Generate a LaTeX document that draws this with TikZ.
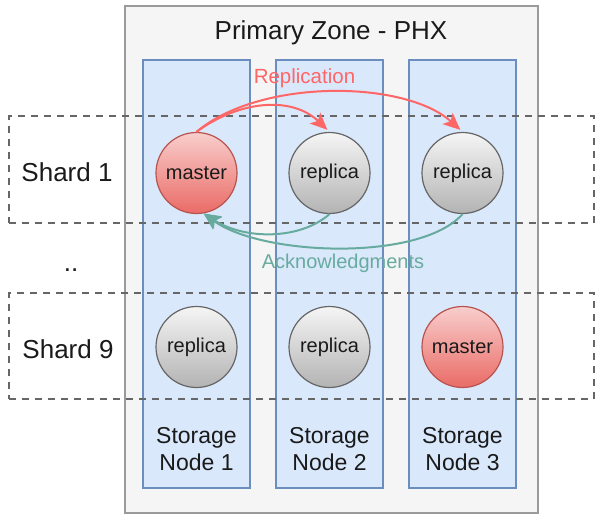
\documentclass[tikz,border=0pt]{standalone}
\usepackage{fontspec}
\setmainfont{Liberation Sans}
\usetikzlibrary{arrows.meta}
\definecolor{zonefill}{HTML}{F5F5F5}
\definecolor{zonedraw}{HTML}{9A9A9A}
\definecolor{colfill}{HTML}{DAE8FC}
\definecolor{coldraw}{HTML}{6C8EBF}
\definecolor{reptop}{HTML}{F5F5F5}
\definecolor{repbot}{HTML}{B3B3B3}
\definecolor{repdraw}{HTML}{666666}
\definecolor{mastop}{HTML}{F8CECC}
\definecolor{masbot}{HTML}{EA6B66}
\definecolor{masdraw}{HTML}{B85450}
\definecolor{replcol}{HTML}{FF6666}
\definecolor{ackcol}{HTML}{67AB9F}
\definecolor{dashcol}{HTML}{666666}
\definecolor{txt}{HTML}{1A1A1A}
\tikzset{
  zonebox/.style={draw=zonedraw, fill=zonefill, line width=1.4pt, minimum width=413pt, minimum height=507pt, inner sep=0pt},
  colbox/.style={draw=coldraw, fill=colfill, line width=1.4pt, minimum width=107pt, minimum height=428pt, inner sep=0pt},
  shardbox/.style={draw=dashcol, line width=1.4pt, dash pattern=on 7pt off 6pt, minimum width=585pt, inner sep=0pt},
  repnode/.style={circle, draw=repdraw, line width=1.2pt, top color=reptop, bottom color=repbot, minimum size=81pt, inner sep=0pt, font=\fontsize{20}{24}\selectfont, text=txt},
  masnode/.style={circle, draw=masdraw, line width=1.2pt, top color=mastop, bottom color=masbot, minimum size=81pt, inner sep=0pt, font=\fontsize{20}{24}\selectfont, text=txt},
  biglabel/.style={font=\fontsize{26}{30}\selectfont, text=txt, inner sep=0pt},
  storelabel/.style={font=\fontsize{23}{27}\selectfont, text=txt, align=center, inner sep=0pt},
  replarrow/.style={draw=replcol, line width=2pt, -{Stealth[length=17pt, width=15pt, inset=4pt]}},
  ackarrow/.style={draw=ackcol, line width=2pt, -{Stealth[length=17pt, width=15pt, inset=4pt]}},
}
\begin{document}
\begin{tikzpicture}[x=1pt, y=-1pt]
\useasboundingbox (0,0) rectangle (595,514);
% zone
\node[zonebox] (zone) at (331.5,259.5) {};
\node[biglabel] (zonelabel) at (331,33) {Primary Zone - PHX};
% columns
\node[colbox] (col1) at (196.5,274) {};
\node[colbox] (col2) at (329.5,274) {};
\node[colbox] (col3) at (462.5,274) {};
% storage labels
\node[storelabel] (sl1) at (196.5,449) {Storage\\Node 1};
\node[storelabel] (sl2) at (329.5,449) {Storage\\Node 2};
\node[storelabel] (sl3) at (462.5,449) {Storage\\Node 3};
% shard boxes
\node[shardbox, minimum height=107pt] (shard1) at (301.5,169.5) {};
\node[shardbox, minimum height=106pt] (shard9) at (301.5,346) {};
\node[biglabel] (s1label) at (67,172) {Shard 1};
\node[biglabel] (s9label) at (68,349) {Shard 9};
\node[biglabel, anchor=base] (dots) at (71,271) {..};
% shard 1 nodes
\node[masnode] (m1) at (196.5,173) {master};
\node[repnode] (r12) at (329.5,173) {replica};
\node[repnode] (r13) at (462.5,173) {replica};
% shard 9 nodes
\node[repnode] (r91) at (196.5,347) {replica};
\node[repnode] (r92) at (329.5,347) {replica};
\node[masnode] (m93) at (462.5,347) {master};
% replication
\draw[replarrow, shorten >=3pt] (m1.north) .. controls (240,100) and (292,96) .. (r12.north);
\draw[replarrow, shorten >=3pt] (m1.north) .. controls (260,78) and (405,80) .. (r13.north);
\node[font=\fontsize{20.5}{24}\selectfont, text=replcol, inner sep=0pt] (repllabel) at (304.5,78) {Replication};
% acknowledgments
\draw[ackarrow] (r12.south) .. controls (300,240) and (245,240) .. (m1.-80);
\draw[ackarrow] (r13.south) .. controls (420,262) and (262,256) .. (m1.-80);
\node[font=\fontsize{20}{24}\selectfont, text=ackcol, inner sep=0pt] (acklabel) at (343,263) {Acknowledgments};
\end{tikzpicture}
\end{document}
